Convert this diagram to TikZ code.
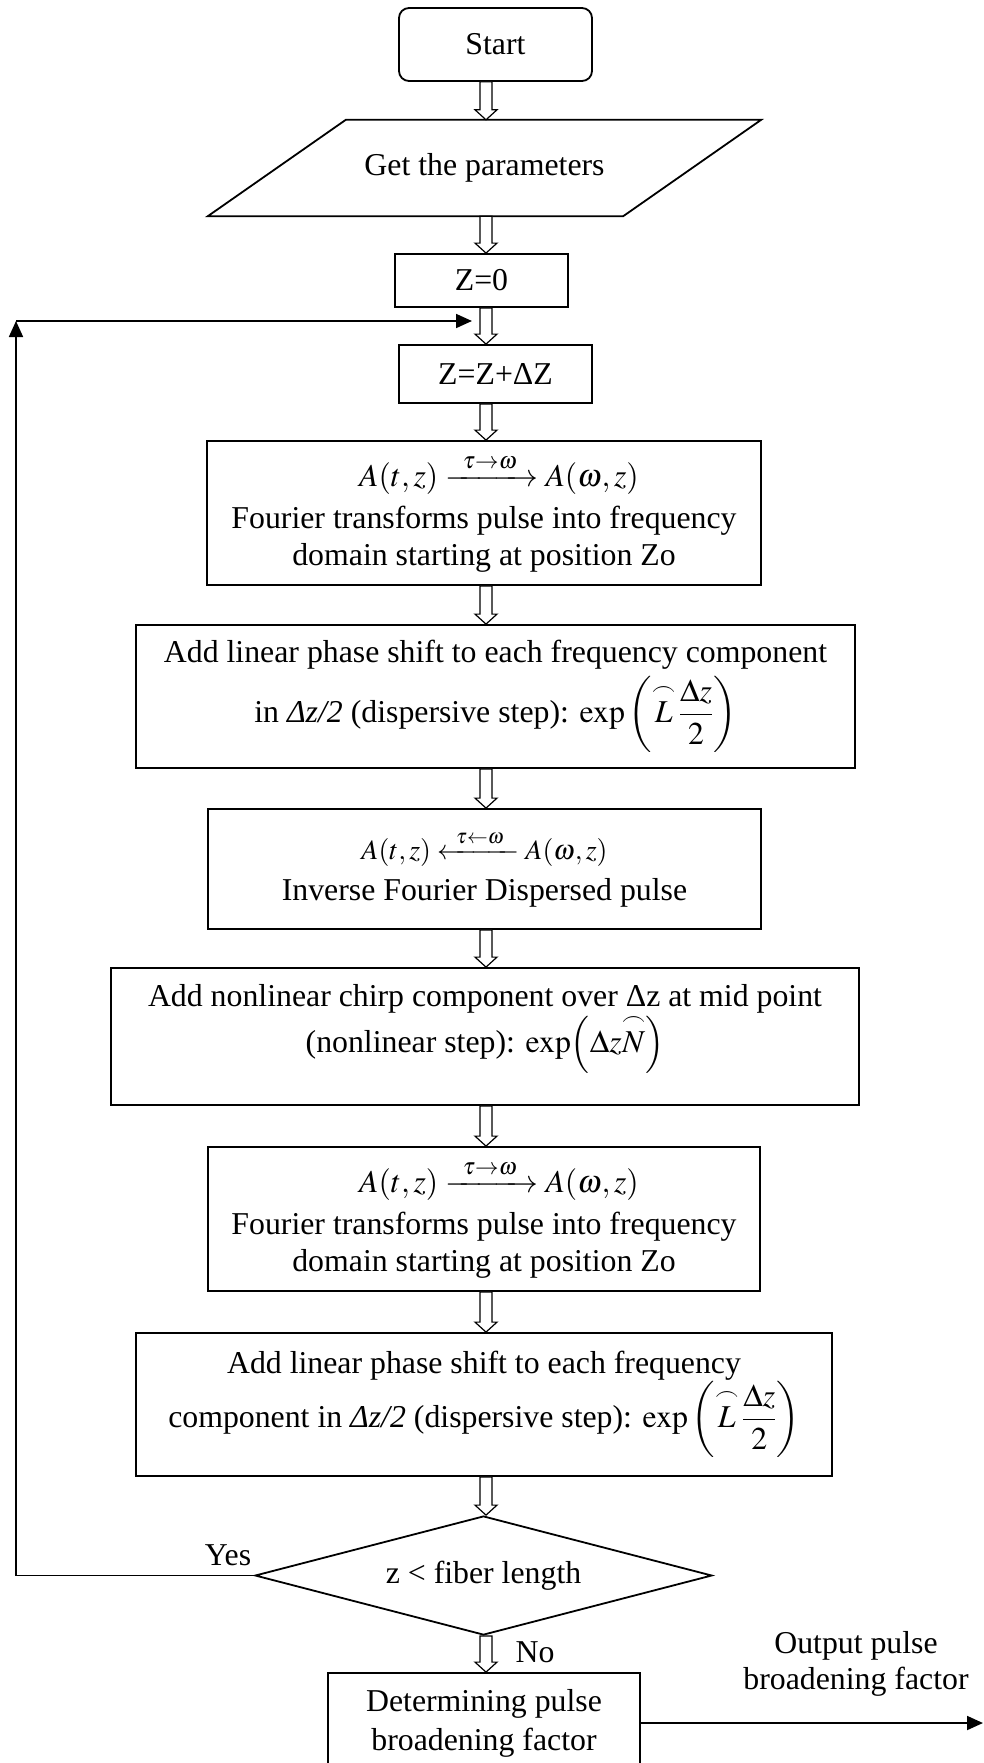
\documentclass[tikz,border=0pt]{standalone}
\usepackage{amsmath}
\usepackage{mathptmx}
\usepackage{fontspec}
\setmainfont{Liberation Serif}
\usetikzlibrary{calc}
\usetikzlibrary{arrows.meta}
\usetikzlibrary{shapes.geometric}

\tikzset{
  every node/.style={font=\fontsize{31.8}{36.5}\selectfont, inner sep=0pt},
  procbox/.style={draw, line width=1.8pt, align=center},
  flow/.style={line width=1.8pt, -{Triangle[length=16pt,width=14pt]}},
  hollow/.style={draw, fill=white, line width=1.2pt}
}

\newcommand{\hollowarrow}[2]{
 \path[hollow] let \p1=(#1.south), \p2=(#2.north), \p3=(axis) in
  (\x3-6pt,\y1) -- (\x3-6pt,\y2+10pt) -- (\x3-11pt,\y2+10pt) -- (\x3,\y2)
  -- (\x3+11pt,\y2+10pt) -- (\x3+6pt,\y2+10pt) -- (\x3+6pt,\y1) -- cycle;
}

\begin{document}
\begin{tikzpicture}[x=1pt,y=-1pt]
\useasboundingbox (0,0) rectangle (984,1763);
\coordinate (axis) at (486,0);

\node[procbox, rounded corners=10pt, minimum width=193pt, minimum height=73pt] (start) at (495.5,44.5) {Start};
\node[minimum width=553pt, minimum height=96pt] (params) at (484.5,168) {Get the parameters};
\draw[line width=1.8pt] ([xshift=138pt]params.north west) -- (params.north east) -- ([xshift=-138pt]params.south east) -- (params.south west) -- cycle;
\node[procbox, minimum width=173pt, minimum height=53pt] (z0) at (481.5,280.5) {Z=0};
\node[procbox, minimum width=193pt, minimum height=58pt] (zinc) at (495.5,374) {Z=Z+ΔZ};
\node[procbox, minimum width=554pt, minimum height=144pt] (fft1) at (484,513)
  {\hspace*{30pt}$A(t,z)\xrightarrow{\;\;\tau\to\omega\;\;}A(\omega,z)$\\[6pt]Fourier transforms pulse into frequency\\domain starting at position Zo};
\node[procbox, minimum width=719pt, minimum height=143pt] (disp1) at (495.5,696.5)
  {Add linear phase shift to each frequency component\\[6pt]in {\itshape Δz/2} (dispersive step): $\exp\left(\overset{\frown}{L}\,\dfrac{\Delta z}{2}\right)$};
\node[procbox, minimum width=553pt, minimum height=120pt] (ifft) at (484.5,869)
  {{\fontsize{28}{30}\selectfont$A(t,z)\xleftarrow{\;\;\tau\leftarrow\omega\;\;}A(\omega,z)$}\\[4pt]Inverse Fourier Dispersed pulse};
\node[procbox, minimum width=748pt, minimum height=137pt] (nonlin) at (485,1036.5)
  {Add nonlinear chirp component over Δz at mid point\\(nonlinear step): $\exp\Bigl(\Delta z\overset{\frown}{N}\Bigr)$\\\mbox{}};
\node[procbox, minimum width=552pt, minimum height=144pt] (fft2) at (484,1219)
  {\hspace*{30pt}$A(t,z)\xrightarrow{\;\;\tau\to\omega\;\;}A(\omega,z)$\\[6pt]Fourier transforms pulse into frequency\\domain starting at position Zo};
\node[procbox, minimum width=696pt, minimum height=143pt] (disp2) at (484,1404.5)
  {Add linear phase shift to each frequency\\component in {\itshape Δz/2} (dispersive step): $\exp\left(\overset{\frown}{L}\,\dfrac{\Delta z}{2}\right)$};
\node[draw, diamond, line width=1.8pt, aspect=3.84, minimum width=457pt, minimum height=119pt] (check) at (483.5,1575.5) {z < fiber length};
\node[procbox, minimum width=312pt, minimum height=100pt] (result) at (484,1723) {Determining pulse\\[2.5pt]broadening factor};

\node (yes) at (228,1555) {Yes};
\node (no) at (535,1652) {No};
\node[align=center] (output) at (856,1664) {Output pulse\\broadening factor};

\foreach \src/\dst in {start/params, params/z0, z0/zinc, zinc/fft1, fft1/disp1, disp1/ifft, ifft/nonlin, nonlin/fft2, fft2/disp2, disp2/check, check/result}
  {\hollowarrow{\src}{\dst}}

\coordinate (loopcorner) at (16,321);
\coordinate (loopin) at (472,321);
\coordinate (outend) at (983,1723);
\draw[flow] (check.west) -| (loopcorner);
\draw[flow] (loopcorner) -- (loopin);
\draw[flow] (result.east) -- (outend);
\end{tikzpicture}
\end{document}
